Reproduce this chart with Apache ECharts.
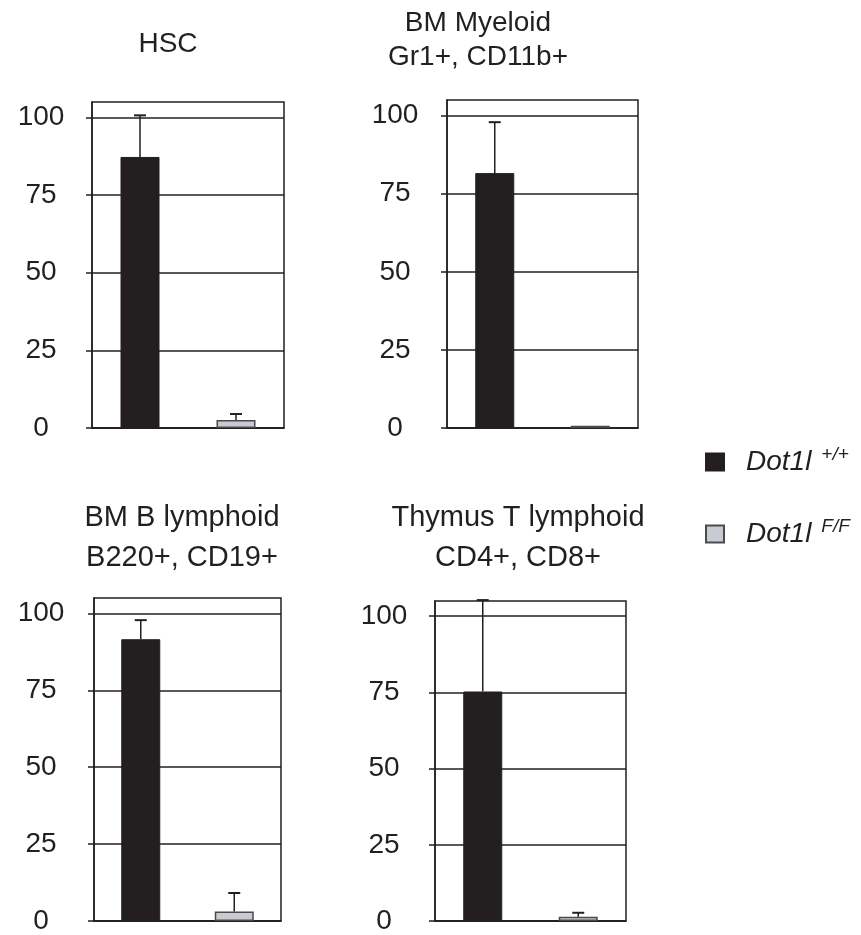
<!DOCTYPE html>
<html>
<head>
<meta charset="utf-8">
<script src="https://cdn.jsdelivr.net/npm/echarts@6/dist/echarts.min.js"></script>
<style>
  html, body { margin: 0; padding: 0; background: #fff; }
  #chart { width: 861px; height: 935px; }
</style>
</head>
<body>
<div id="chart"></div>
<script>
// ---- data ----
const panelTitles = ['HSC', 'BM Myeloid\nGr1+, CD11b+', 'BM B lymphoid\nB220+, CD19+', 'Thymus T lymphoid\nCD4+, CD8+'];
const genotypes = ['Dot1l +/+', 'Dot1l F/F'];
const genotypeSup = ['+/+', 'F/F'];
const wtMean = [87.3, 81.6, 91.6, 75.3];
const wtErr = [13.4, 16.3, 6.2, 30.0];
const ffMean = [2.6, 0.7, 3.1, 1.4];
const ffErr = [1.9, 0, 6.0, 1.3];
const yTicks = [0, 25, 50, 75, 100];
const yMax = 105;

// ---- layout / style ----
const FONT = "'Liberation Sans', Arial, Helvetica, sans-serif";
const INK = '#231f20';
const GRAY = '#c8ccd2';
const grids = [
  { left: 92, top: 102, width: 192, height: 326 },
  { left: 447, top: 100, width: 191, height: 328 },
  { left: 94, top: 598, width: 187, height: 324 },
  { left: 435, top: 601, width: 191, height: 326 }
];
const labelMargin = [51, 52, 53, 51];
const titlePos = [
  { x: 168, y: 44, lh: 36, fs: 28 },
  { x: 478, y: 40, lh: 34, fs: 28 },
  { x: 182, y: 538, lh: 40, fs: 29 },
  { x: 518, y: 538, lh: 40, fs: 29 }
];

const chart = echarts.init(document.getElementById('chart'), null, { renderer: 'canvas' });

const xAxes = [], yAxes = [], series = [];
grids.forEach((g, i) => {
  g.show = true;
  g.borderColor = INK;
  g.borderWidth = 1.5;
  g.containLabel = false;
  xAxes.push({
    type: 'category', gridIndex: i, data: genotypes,
    axisLine: { show: true, onZero: false, lineStyle: { color: INK, width: 1.5 } },
    axisTick: { show: false }, axisLabel: { show: false }, splitLine: { show: false }
  });
  yAxes.push({
    type: 'value', gridIndex: i, min: 0, max: yMax, interval: 25,
    axisLine: { show: true, lineStyle: { color: INK, width: 1.5 } },
    axisTick: { show: true, length: 6, customValues: yTicks, lineStyle: { color: INK, width: 1.5 } },
    axisLabel: {
      show: true, customValues: yTicks, margin: labelMargin[i], align: 'center',
      color: INK, fontSize: 28, fontFamily: FONT
    },
    splitLine: { show: true, lineStyle: { color: INK, width: 1.5 } }
  });
  series.push({
    name: genotypes[0], type: 'bar', xAxisIndex: i, yAxisIndex: i,
    data: [wtMean[i], '-'], barWidth: 39, barGap: '-100%',
    itemStyle: { color: INK, borderColor: INK, borderWidth: 1 },
    silent: true
  });
  series.push({
    name: genotypes[1], type: 'bar', xAxisIndex: i, yAxisIndex: i,
    data: ['-', ffMean[i]], barWidth: 39, barGap: '-100%',
    itemStyle: { color: GRAY, borderColor: '#4a4a4a', borderWidth: 1.5 },
    silent: true
  });
  series.push({
    type: 'custom', xAxisIndex: i, yAxisIndex: i, clip: false, silent: true, z: 5,
    data: [[0, wtMean[i], wtErr[i]], [1, ffMean[i], ffErr[i]]],
    encode: { x: 0, y: 1 },
    renderItem: function (params, api) {
      const x = api.value(0), m = api.value(1), e = api.value(2);
      if (!e) return null;
      const base = api.coord([x, m]);
      const top = api.coord([x, m + e]);
      const hw = 6;
      return {
        type: 'group',
        children: [
          { type: 'line', shape: { x1: base[0], y1: base[1], x2: top[0], y2: top[1] },
            style: { stroke: INK, lineWidth: 1.5 } },
          { type: 'line', shape: { x1: top[0] - hw, y1: top[1], x2: top[0] + hw, y2: top[1] },
            style: { stroke: INK, lineWidth: 2 } }
        ]
      };
    }
  });
});

const graphics = panelTitles.map((t, i) => ({
  type: 'text',
  style: {
    text: t, x: titlePos[i].x, y: titlePos[i].y,
    align: 'center', verticalAlign: 'middle',
    fontSize: titlePos[i].fs, fontFamily: FONT, fill: INK, lineHeight: titlePos[i].lh
  },
  silent: true
}));

chart.setOption({
  animation: false,
  backgroundColor: '#ffffff',
  grid: grids,
  xAxis: xAxes,
  yAxis: yAxes,
  series: series,
  graphic: graphics,
  legend: {
    data: genotypes,
    orient: 'vertical',
    left: 700, top: 440,
    itemWidth: 18, itemHeight: 17, itemGap: 41,
    icon: 'rect',
    selectedMode: false,
    formatter: function (name) {
      const k = genotypes.indexOf(name);
      return '{a|Dot1l}{b|' + genotypeSup[k] + '}';
    },
    textStyle: {
      color: INK,
      rich: {
        a: { fontFamily: FONT, fontStyle: 'italic', fontSize: 28, lineHeight: 34, color: INK, padding: [0, 0, 0, 17] },
        b: { fontFamily: FONT, fontStyle: 'italic', fontSize: 19, lineHeight: 19, color: INK, verticalAlign: 'top', padding: [0, 0, 0, 10] }
      }
    }
  }
});
</script>
</body>
</html>
